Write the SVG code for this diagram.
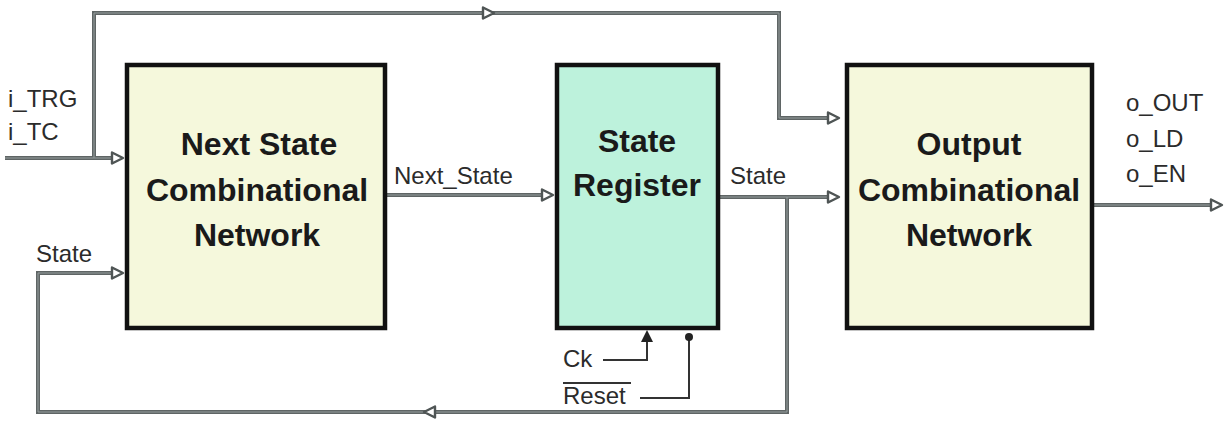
<svg xmlns="http://www.w3.org/2000/svg" width="1225" height="429" viewBox="0 0 1225 429">
<defs>
<style>
.bus{fill:none;stroke:#5f6565;stroke-width:4;stroke-linejoin:miter}
.busc{fill:none;stroke:#969e9e;stroke-width:1}
.ah{fill:#ffffff;stroke:#4f5555;stroke-width:2.4;stroke-linejoin:round}
.box{stroke:#111;stroke-width:4.5}
.bt{font-family:"Liberation Sans",Arial,sans-serif;font-weight:bold;font-size:32px;fill:#1a1a1a;text-anchor:middle}
.lb{font-family:"Liberation Sans",Arial,sans-serif;font-size:24px;fill:#2b2b2b}
.thin{fill:none;stroke:#333;stroke-width:2}
</style>
</defs>
<rect width="1225" height="429" fill="#ffffff"/>
<g id="connectors">
<g id="bus-lines">
<path class="bus" d="M5 158 H113 M94 158 V13 H779 V118 H830"/>
<path class="bus" d="M385 195 H545"/>
<path class="bus" d="M718 197 H830 M787 197 V412 H38 V273 H113"/>
<path class="bus" d="M1093 205 H1212"/>
<path class="busc" d="M5 158 H113 M94 158 V13 H779 V118 H830"/>
<path class="busc" d="M385 195 H545"/>
<path class="busc" d="M718 197 H830 M787 197 V412 H38 V273 H113"/>
<path class="busc" d="M1093 205 H1212"/>
</g>
<g id="arrowheads">
<path class="ah" d="M112 152.5 L123 158 L112 163.5 Z"/>
<path class="ah" d="M483 7.5 L494 13 L483 18.5 Z"/>
<path class="ah" d="M828 112.5 L839 118 L828 123.5 Z"/>
<path class="ah" d="M542 189.5 L553 195 L542 200.5 Z"/>
<path class="ah" d="M828 191.5 L839 197 L828 202.5 Z"/>
<path class="ah" d="M112 267.5 L123 273 L112 278.5 Z"/>
<path class="ah" d="M435 406.5 L424 412 L435 417.5 Z"/>
<path class="ah" d="M1211 199.5 L1222 205 L1211 210.5 Z"/>
</g>
<g id="ck-reset">
<path class="thin" d="M603 360 H647 V340"/>
<path d="M641 342 L647 330 L653 342 Z" fill="#222"/>
<path class="thin" d="M640 398 H689 V337"/>
<circle cx="689" cy="337" r="4" fill="#222"/>
<line x1="563" y1="383" x2="631" y2="383" stroke="#333" stroke-width="2.2"/>
</g>
</g>
<g id="node-next-state">
<rect class="box" x="127" y="65" width="258" height="263" fill="#f5f8dc"/>
<text class="bt" x="259" y="155">Next State</text>
<text class="bt" x="257" y="201">Combinational</text>
<text class="bt" x="257" y="246">Network</text>
</g>
<g id="node-state-register">
<rect class="box" x="557" y="65" width="161" height="263" fill="#bdf2dc"/>
<text class="bt" x="637" y="152">State</text>
<text class="bt" x="637" y="196">Register</text>
</g>
<g id="node-output">
<rect class="box" x="847" y="65" width="245" height="263" fill="#f5f8dc"/>
<text class="bt" x="969" y="155">Output</text>
<text class="bt" x="969" y="201">Combinational</text>
<text class="bt" x="969" y="246">Network</text>
</g>
<g id="labels">
<text class="lb" x="8" y="107">i_TRG</text>
<text class="lb" x="8" y="140">i_TC</text>
<text class="lb" x="36" y="262">State</text>
<text class="lb" x="394" y="184">Next_State</text>
<text class="lb" x="730" y="184">State</text>
<text class="lb" x="1126" y="111">o_OUT</text>
<text class="lb" x="1126" y="147">o_LD</text>
<text class="lb" x="1126" y="182">o_EN</text>
<text class="lb" x="563" y="367">Ck</text>
<text class="lb" x="563" y="404">Reset</text>
</g>
</svg>
